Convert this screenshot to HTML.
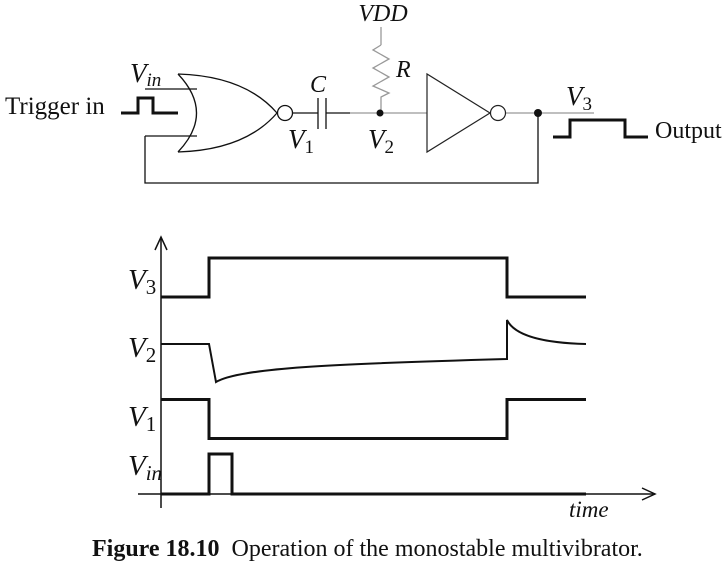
<!DOCTYPE html>
<html><head><meta charset="utf-8"><style>
html,body{margin:0;padding:0;background:#fff;}
svg{display:block;}
text{font-family:"Liberation Serif",serif;fill:#111;}
.i{font-style:italic;}
</style></head><body>
<svg width="725" height="565" viewBox="0 0 725 565" xmlns="http://www.w3.org/2000/svg">
<g fill="none" stroke="#111" stroke-width="1.3">
  <path d="M178,74 Q215,113 178,152"/>
  <path d="M178,74 Q245,76 277,113 Q245,150 178,152"/>
  <circle cx="285" cy="113" r="7.5"/>
  <line x1="145" y1="89" x2="197" y2="89"/>
  <line x1="145" y1="136" x2="197" y2="136"/>
  <polyline points="145,136 145,183 538,183 538,113"/>
  <line x1="293" y1="113" x2="318" y2="113"/>
  <line x1="318" y1="98" x2="318" y2="129"/>
  <line x1="326" y1="98" x2="326" y2="129"/>
  <line x1="326" y1="113" x2="350" y2="113"/>
</g>
<g fill="none" stroke="#999" stroke-width="1.3">
  <line x1="350" y1="113" x2="427" y2="113"/>
  <line x1="381" y1="27" x2="381" y2="45"/>
  <polyline points="381,45 373,50 389,59 373,68 389,77 373,86 389,93 381,97 381,113"/>
  <line x1="506" y1="113" x2="594" y2="113"/>
</g>
<g fill="none" stroke="#222" stroke-width="1.2">
  <polygon points="427,74 427,152 490,113"/>
  <circle cx="498" cy="113" r="7.5"/>
</g>
<circle cx="380" cy="113" r="3.5" fill="#111"/>
<circle cx="538" cy="113" r="4" fill="#111"/>
<g fill="none" stroke="#111" stroke-width="3">
  <polyline points="121,113 138,113 138,98 153,98 153,113 178,113"/>
  <polyline points="553,137 570,137 570,120 625,120 625,137 648,137"/>
</g>
<text x="383" y="21" class="i" font-size="24" text-anchor="middle">VDD</text>
<text x="396" y="77" class="i" font-size="24">R</text>
<text x="310" y="92" class="i" font-size="24">C</text>
<text x="130" y="82" class="i" font-size="27">V<tspan font-size="19" dy="4">in</tspan></text>
<text x="5" y="114" font-size="25">Trigger in</text>
<text x="288" y="148" class="i" font-size="27">V<tspan font-size="19" font-style="normal" dy="5">1</tspan></text>
<text x="368" y="148" class="i" font-size="27">V<tspan font-size="19" font-style="normal" dy="5">2</tspan></text>
<text x="566" y="105" class="i" font-size="27">V<tspan font-size="19" font-style="normal" dy="5">3</tspan></text>
<text x="655" y="138" font-size="24">Output</text>

<g fill="none" stroke="#111" stroke-width="1.5">
  <line x1="161" y1="238" x2="161" y2="508"/>
  <polyline points="155,250 161,237 167,250"/>
  <line x1="138" y1="494" x2="655" y2="494"/>
  <polyline points="642,488 655,494 642,500"/>
</g>
<g fill="none" stroke="#111" stroke-width="3">
  <polyline points="161,297 209,297 209,258 507,258 507,297 586,297"/>
  <polyline points="161,399.5 209,399.5 209,438.5 507,438.5 507,399.5 586,399.5"/>
  <polyline points="161,494 209,494 209,454 232,454 232,494 586,494"/>
</g>
<g fill="none" stroke="#111" stroke-width="2">
  <path d="M161,344 L209,344 L216,382 C240,368 330,364 507,359 L507,320 C515,336 545,343 586,344"/>
</g>
<text x="128" y="289" class="i" font-size="29">V<tspan font-size="21" font-style="normal" dy="5">3</tspan></text>
<text x="128" y="357" class="i" font-size="29">V<tspan font-size="21" font-style="normal" dy="5">2</tspan></text>
<text x="128" y="426" class="i" font-size="29">V<tspan font-size="21" font-style="normal" dy="5">1</tspan></text>
<text x="128" y="475" class="i" font-size="29">V<tspan font-size="21" dy="5">in</tspan></text>
<text x="569" y="517" class="i" font-size="23">time</text>
<text x="92" y="556" font-size="24" xml:space="preserve"><tspan font-weight="bold">Figure 18.10</tspan>  Operation of the monostable multivibrator.</text>
</svg>
</body></html>
